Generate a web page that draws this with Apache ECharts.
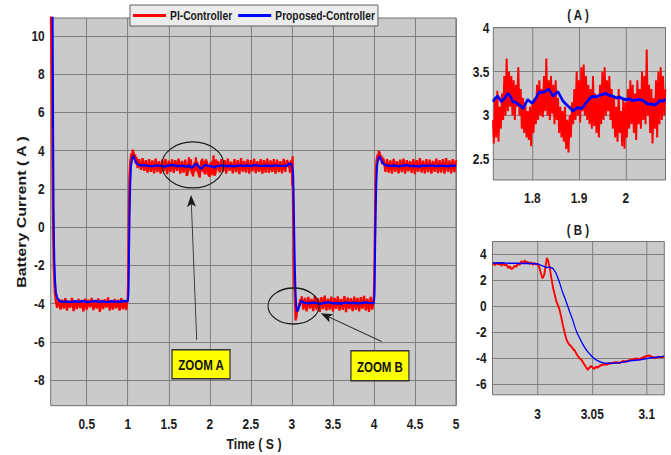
<!DOCTYPE html>
<html><head><meta charset="utf-8">
<script src="https://cdn.jsdelivr.net/npm/echarts@6/dist/echarts.min.js"></script>
<style>html,body{margin:0;padding:0;background:#fff;overflow:hidden;width:671px;height:455px}
#c{width:818px;height:455px;transform:scaleX(0.8203);transform-origin:0 0}</style>
</head><body><div id="c"></div><script>
// ---------- tick values ----------
const xTicksMain = [0.5,1,1.5,2,2.5,3,3.5,4,4.5,5];
const yTicksMain = [-8,-6,-4,-2,0,2,4,6,8,10];
const xTicksA = [1.8,1.9,2];
const yTicksA = [2.5,3,3.5,4];
const xTicksB = [3,3.05,3.1];
const yTicksB = [-6,-4,-2,0,2,4];

// ---------- PI-Controller (red) ----------
const redStart = [[0.06,12],[0.07,9],[0.075,7.5],[0.08,5],[0.086,2],[0.092,-0.5],[0.1,-2.2],[0.11,-3.3],[0.125,-3.9],[0.14,-4.2]];
const redSeg1 = [-3.75,-4.3,-3.8,-4.25,-3.72,-4.35,-3.85,-4.2,-3.7,-4.38,-3.82,-4.28,-3.76,-4.22,-3.9,-4.4,-3.74,-4.3,-3.8,-4.18,-3.7,-4.33,-3.86,-4.25,-3.73,-4.42,-3.8,-4.27,-3.78,-4.2,-3.68,-4.35,-3.84,-4.3,-3.75,-4.24,-3.8,-4.36,-3.72,-4.28,-3.85,-4.32,-3.7];
const redRise1 = [[1.005,-3.0],[1.01,-1.0],[1.015,1.0],[1.02,2.5],[1.03,3.4],[1.045,3.85],[1.055,3.6],[1.06,4.05],[1.065,3.7],[1.07,3.95],[1.08,3.55],[1.09,3.8],[1.1,3.3],[1.11,3.65],[1.12,3.1]];
const redSeg2a = [3.55,3.0,3.6,2.95,3.5,2.85,3.55,2.9,3.48,2.82,3.58,2.88,3.45,2.8,3.52,2.92,3.56,2.78,3.47,2.9,3.54,2.84,3.5,2.95,3.58,2.8,3.46,2.86,3.52];
const redA = [2.95,2.68,3.2,2.75, 3.28,2.7,3.1,2.85, 3.25,2.95,3.45,3.0, 3.65,3.05,3.5,3.1, 3.45,3.0,3.4,2.95, 3.35,3.1,3.55,3.0, 3.3,2.85,3.2,2.8, 3.15,2.75,3.05,2.72, 3.1,2.65,3.15,2.8, 3.2,2.9,3.35,2.95,
  3.4,3.0,3.3,2.98, 3.45,3.05,3.65,3.0, 3.4,2.95,3.45,3.02, 3.35,2.9,3.4,2.95, 3.2,2.8,3.1,2.75, 3.05,2.7,3.1,2.62, 2.95,2.58,3.0,2.75, 3.15,2.9,3.3,2.95, 3.5,3.0,3.4,2.92, 3.55,3.05,3.58,3.0,
  3.45,2.95,3.35,2.9, 3.3,2.85,3.45,2.88, 3.25,2.8,3.2,2.75, 3.35,2.9,3.5,2.95, 3.55,3.0,3.4,3.05, 3.45,2.95,3.3,2.85, 3.2,2.75,3.1,2.7, 3.3,2.8,3.05,2.65, 3.2,2.62,3.15,2.75, 3.3,2.85,3.4,2.9,
  3.35,2.8,3.25,2.72, 3.4,2.9,3.3,2.85, 3.5,2.95,3.45,2.9, 3.75,3.0,3.35,2.8, 3.3,2.68,3.2,2.85, 3.4,2.75,3.5,2.9, 3.55,2.95,3.45,3.0, 3.3];
const redSeg2b = [3.45,2.85,3.55,2.9,3.5,2.8,3.58,2.95,3.42,2.82,3.55,2.88,3.5,2.78,3.6,2.9,3.46,2.85,3.54,2.8,3.5,2.92,3.57,2.83,3.45,2.9,3.55,2.8,3.5,2.86,3.58,2.84,3.48,2.9,3.55,2.8,3.52,2.88,3.45,2.82,3.56,2.9,3.5];
const redB = [[2.9589,3.3],[2.961,3.15],[2.9625,3.35],[2.964,3.2],[2.9655,3.3],[2.967,3.1],[2.9685,3.28],[2.97,3.15],[2.9715,3.2],[2.973,2.95],[2.9745,3.05],[2.976,2.85],[2.9775,2.95],[2.979,3.1],[2.9805,3.05],[2.982,3.25],[2.9835,3.2],[2.985,3.45],[2.9865,3.3],[2.988,3.5],[2.9895,3.35],[2.991,3.4],[2.9925,3.25],[2.994,3.35],[2.9955,3.2],[2.997,3.3],[2.9985,3.22],[3.0,3.25],[3.0015,3.0],[3.003,2.5],[3.0045,2.15],[3.006,2.4],[3.0075,3.2],[3.0085,3.7],[3.0095,3.5],[3.011,3.0],[3.0125,2.2],[3.014,1.45],[3.0155,0.95],[3.017,0.4],[3.0185,0.1],[3.02,-0.25],[3.0215,-0.8],[3.023,-1.4],[3.0245,-1.95],[3.026,-2.45],[3.0275,-2.75],[3.029,-2.95],[3.031,-3.1],[3.0325,-3.3],[3.034,-3.4],[3.0355,-3.65],[3.037,-3.85],[3.0385,-4.0],[3.04,-4.1],[3.0415,-4.3],[3.043,-4.5],[3.0445,-4.7],[3.046,-4.88],[3.0475,-4.7],[3.049,-4.6],[3.0505,-4.72],[3.052,-4.8],[3.0535,-4.65],[3.055,-4.7],[3.057,-4.58],[3.059,-4.5],[3.061,-4.45],[3.063,-4.48],[3.066,-4.38],[3.069,-4.35],[3.072,-4.3],[3.075,-4.35],[3.078,-4.22],[3.081,-4.25],[3.084,-4.15],[3.087,-4.1],[3.09,-4.02],[3.093,-4.08],[3.096,-3.95],[3.099,-3.85],[3.102,-3.78],[3.105,-3.9],[3.108,-3.98],[3.111,-3.88],[3.114,-3.92],[3.116,-3.85]];
const redSeg3 = [-3.62,-4.3,-3.7,-4.4,-3.65,-4.25,-3.75,-4.38,-3.6,-4.3,-3.72,-4.42,-3.66,-4.28,-3.58,-4.35,-3.74,-4.3,-3.64,-4.4,-3.7,-4.26,-3.62,-4.36,-3.75,-4.32,-3.6,-4.44,-3.68,-4.28,-3.72,-4.38,-3.63,-4.3,-3.7,-4.4,-3.66,-4.27,-3.6,-4.35,-3.74,-4.42,-3.65,-4.3,-3.62];
const redRise4 = [[4.004,-3.0],[4.01,-1.0],[4.016,1.0],[4.022,2.6],[4.03,3.4],[4.045,3.8],[4.055,3.55],[4.06,4.0],[4.065,3.65],[4.07,3.9],[4.08,3.5],[4.09,3.75],[4.1,3.3],[4.11,3.6]];
const redSeg4 = [3.5,2.9,3.55,2.85,3.48,2.8,3.56,2.9,3.45,2.82,3.52,2.88,3.58,2.8,3.5,2.92,3.45,2.84,3.55,2.78,3.5,2.9,3.6,2.85,3.47,2.82,3.55,2.88,3.52,2.8,3.46,2.9,3.58,2.83,3.5,2.86,3.55,2.8,3.6,2.9,3.48,2.82,3.55,2.88,3.5];

// ---------- Proposed-Controller (blue) ----------
const blueStart = [[0.083,12],[0.088,8],[0.092,4],[0.096,1],[0.1,-0.5],[0.106,-1.8],[0.115,-2.85],[0.125,-3.4],[0.14,-3.7],[0.16,-3.82],[0.18,-3.88]];
const blueSeg1 = [-3.9,-3.88,-3.92,-3.87,-3.9,-3.86,-3.91,-3.89,-3.85,-3.9,-3.88,-3.92,-3.87,-3.89,-3.9,-3.86,-3.88];
const blueRise1 = [[1.008,-3.5],[1.015,-1.5],[1.022,0.5],[1.03,2.2],[1.04,3.2],[1.055,3.6],[1.07,3.72],[1.085,3.55],[1.1,3.4],[1.12,3.3],[1.15,3.22]];
const blueSeg2a = [3.24,3.2,3.18,3.23,3.2,3.17,3.22,3.25,3.19,3.21,3.18];
const blueA = [[1.7156,3.16],[1.721,3.2],[1.726,3.22],[1.7336,3.16],[1.74,3.19],[1.7477,3.25],[1.753,3.22],[1.758,3.16],[1.764,3.15],[1.769,3.13],[1.775,3.11],[1.78,3.08],[1.785,3.13],[1.79,3.18],[1.795,3.16],[1.8,3.14],[1.808,3.2],[1.815,3.27],[1.82,3.26],[1.826,3.27],[1.835,3.3],[1.84,3.26],[1.844,3.22],[1.85,3.25],[1.855,3.27],[1.86,3.22],[1.865,3.17],[1.87,3.14],[1.876,3.11],[1.882,3.08],[1.887,3.05],[1.892,3.07],[1.897,3.09],[1.903,3.08],[1.908,3.09],[1.913,3.13],[1.919,3.17],[1.924,3.2],[1.929,3.22],[1.936,3.21],[1.944,3.23],[1.95,3.24],[1.958,3.25],[1.965,3.23],[1.972,3.22],[1.98,3.2],[1.987,3.21],[1.994,3.19],[2.001,3.18],[2.008,3.19],[2.015,3.17],[2.024,3.18],[2.033,3.18],[2.04,3.16],[2.047,3.13],[2.055,3.13],[2.062,3.12],[2.068,3.14],[2.073,3.17],[2.078,3.16],[2.0853,3.18]];
const blueSeg2b = [3.2,3.22,3.19,3.21,3.18,3.23,3.2,3.22,3.19,3.24,3.21,3.2,3.22,3.19,3.23,3.21,3.2,3.22];
const blueB = [[2.9589,3.32],[2.965,3.33],[2.97,3.31],[2.975,3.3],[2.98,3.3],[2.985,3.29],[2.99,3.3],[2.995,3.29],[3.0,3.25],[3.004,3.12],[3.008,2.98],[3.011,3.0],[3.014,2.9],[3.0165,2.6],[3.0178,2.33],[3.02,1.85],[3.0224,1.18],[3.025,0.6],[3.027,0.14],[3.0295,-0.45],[3.032,-1.02],[3.034,-1.55],[3.0361,-2.05],[3.0385,-2.45],[3.0407,-2.82],[3.043,-3.15],[3.0452,-3.42],[3.0475,-3.65],[3.0498,-3.85],[3.052,-4.02],[3.0544,-4.16],[3.0575,-4.28],[3.0605,-4.35],[3.0635,-4.38],[3.0666,-4.38],[3.071,-4.36],[3.0757,-4.33],[3.08,-4.26],[3.0849,-4.19],[3.09,-4.14],[3.094,-4.11],[3.099,-4.04],[3.1031,-3.98],[3.109,-3.92],[3.116,-3.85]];
const blueSeg3 = [-3.95,-3.98,-3.94,-3.97,-4.0,-3.95,-3.93,-3.98,-3.96,-3.99,-3.94,-3.97,-3.95,-3.98,-3.96,-3.93,-3.97,-3.96];
const blueRise4 = [[4.006,-3.5],[4.013,-1.5],[4.02,0.5],[4.028,2.2],[4.038,3.2],[4.052,3.58],[4.068,3.7],[4.085,3.55],[4.1,3.4],[4.12,3.3],[4.15,3.22]];
const blueSeg4 = [3.2,3.22,3.18,3.21,3.24,3.19,3.2,3.17,3.22,3.2,3.23,3.19,3.21,3.2,3.18,3.22,3.2];

// sampled segments: start time + sample period
function seg(t0, dt, vals){ return vals.map((v,i)=>[+(t0+i*dt).toFixed(5), v]); }
const redA_pts = seg(1.715, 0.0025, redA);
const redMain = [].concat(redStart, seg(0.16,0.02,redSeg1), redRise1, seg(1.14,0.02,redSeg2a), redA_pts,
  seg(2.10,0.02,redSeg2b), redB, seg(3.12,0.02,redSeg3), redRise4, seg(4.12,0.02,redSeg4));
const blueMain = [].concat(blueStart, seg(0.2,0.05,blueSeg1), blueRise1, seg(1.2,0.05,blueSeg2a), blueA,
  seg(2.1,0.05,blueSeg2b), blueB, seg(3.15,0.05,blueSeg3), blueRise4, seg(4.2,0.05,blueSeg4));

// the figure is horizontally condensed: chart is laid out at 818px and squeezed to 671px
const SX = 671/818;
const X = v => v / SX;
const FONT = "'Liberation Sans',Arial,sans-serif";
const GRIDC = '#777777', BG = '#cacaca', BORDER = '#666666';

function axis(grid, min, max, ticks, margin){
  return {type:'value', gridIndex:grid, min, max,
    axisLine:{show:false}, axisTick:{show:false, customValues:ticks},
    axisLabel:{customValues:ticks, margin, color:'#1a1a1a', fontWeight:'bold', fontSize:14.5, fontFamily:FONT},
    splitLine:{show:true, lineStyle:{color:GRIDC, width:1}}};
}
function ser(name, xi, data, color, w, z){
  return {type:'line', name, xAxisIndex:xi, yAxisIndex:xi, data, symbol:'none', showSymbol:false,
    lineStyle:{color, width:w}, itemStyle:{color}, z, clip:true, animation:false};
}

const chart = echarts.init(document.getElementById('c'), null, {renderer:'svg'});
const option = {
  animation:false,
  backgroundColor:'#ffffff',
  grid:[
    {left:X(50.7), top:18, width:X(405.3), height:387.7, show:true, backgroundColor:BG, borderColor:BORDER, borderWidth:1},
    {left:X(493.3), top:27.7, width:X(172.2), height:152.3, show:true, backgroundColor:BG, borderColor:BORDER, borderWidth:1},
    {left:X(492.5), top:241.5, width:X(171.8), height:153.3, show:true, backgroundColor:BG, borderColor:BORDER, borderWidth:1}
  ],
  xAxis:[
    axis(0,0.061,5,xTicksMain,11),
    axis(1,1.7164,2.0853,xTicksA,11),
    axis(2,2.9586,3.1161,xTicksB,12)
  ],
  yAxis:[
    axis(0,-9.33,10.93,yTicksMain,X(6)),
    axis(1,2.265,4.0,yTicksA,X(4)),
    axis(2,-6.8,4.97,yTicksB,X(6))
  ],
  legend:{left:X(130), top:5, data:['PI-Controller','Proposed-Controller'], icon:'rect', itemWidth:X(33), itemHeight:3, itemGap:X(6),
    padding:[4,X(3),4,X(3)], backgroundColor:'#ececec', borderColor:'#555', borderWidth:1, borderRadius:0,
    textStyle:{fontFamily:FONT, fontWeight:'bold', fontSize:12.5, color:'#1a1a1a'}},
  series:[
    ser('PI-Controller',0,redMain,'#ff0000',2.8,2),
    ser('Proposed-Controller',0,blueMain,'#0000ff',2.4,3),
    ser('PI-Controller',1,redA_pts,'#ff0000',2.4,2),
    ser('Proposed-Controller',1,blueA,'#0000ff',3,3),
    ser('PI-Controller',2,redB,'#ff0000',2.2,2),
    ser('Proposed-Controller',2,blueB,'#0000ff',1.5,3)
  ]
};
chart.setOption(option);

// ---------- annotations anchored in main-plot data units ----------
const ellA = {t:1.793, v:3.25, rx:31, ry:23};
const ellB = {t:3.020, v:-4.12, rx:25.5, ry:18};
const boxA = {t:1.893, v:-7.17, w:58, h:29, text:'ZOOM A'};
const boxB = {t:4.073, v:-7.24, w:58, h:30, text:'ZOOM B'};
const arrA = {from:[1.840,-5.89], to:[1.771,1.68]};
const arrB = {from:[4.094,-5.98], to:[3.351,-4.50]};
const P = (t,v) => chart.convertToPixel({gridIndex:0}, [t,v]);

const g = [];
[ellA, ellB].forEach(e => { const c = P(e.t,e.v);
  g.push({type:'ellipse', shape:{cx:c[0], cy:c[1], rx:X(e.rx), ry:e.ry}, style:{fill:'none', stroke:'#1a1a1a', lineWidth:1.3}, z:100}); });
[boxA, boxB].forEach(b => { const c = P(b.t,b.v);
  g.push({type:'rect', shape:{x:c[0]-X(b.w)/2, y:c[1]-b.h/2, width:X(b.w), height:b.h}, style:{fill:'#ffff00', stroke:'#333', lineWidth:1.5}, z:100});
  g.push({type:'text', x:c[0], y:c[1]+1, style:{text:b.text, align:'center', verticalAlign:'middle', textAlign:'center', textVerticalAlign:'middle', font:"bold 14px "+FONT, fill:'#111'}, z:101}); });
[arrA, arrB].forEach(a => {
  const s = P(a.from[0],a.from[1]), e = P(a.to[0],a.to[1]);
  const sd = [s[0]*SX, s[1]], ed = [e[0]*SX, e[1]];
  const dx = ed[0]-sd[0], dy = ed[1]-sd[1], L = Math.hypot(dx,dy), ux = dx/L, uy = dy/L, nx = -uy, ny = ux;
  const hl = 12, hw = 4.5;
  const base = [ed[0]-hl*ux, ed[1]-hl*uy], notch = [ed[0]-9*ux, ed[1]-9*uy];
  const U = p => [p[0]/SX, p[1]];
  const n2 = U(notch);
  g.push({type:'line', shape:{x1:s[0], y1:s[1], x2:n2[0], y2:n2[1]}, style:{stroke:'#333', lineWidth:1.1}, z:100});
  g.push({type:'polygon', shape:{points:[e, U([base[0]+hw*nx, base[1]+hw*ny]), n2, U([base[0]-hw*nx, base[1]-hw*ny])]}, style:{fill:'#1a1a1a'}, z:100});
});
// titles and axis names
const T = (x,y,text,size,rot) => ({type:'text', x:X(x), y, rotation:rot||0, style:{text, align:'center', verticalAlign:'middle', textAlign:'center', textVerticalAlign:'middle', font:"bold "+size+"px "+FONT, fill:'#1a1a1a'}});
g.push(T(22,212,'Battery Current ( A )',16,Math.PI/2));
g.push(T(254,444,'Time ( S )',15));
g.push(T(578,15,'( A )',14));
g.push(T(578,230,'( B )',14));
chart.setOption({graphic:g});
</script></body></html>
